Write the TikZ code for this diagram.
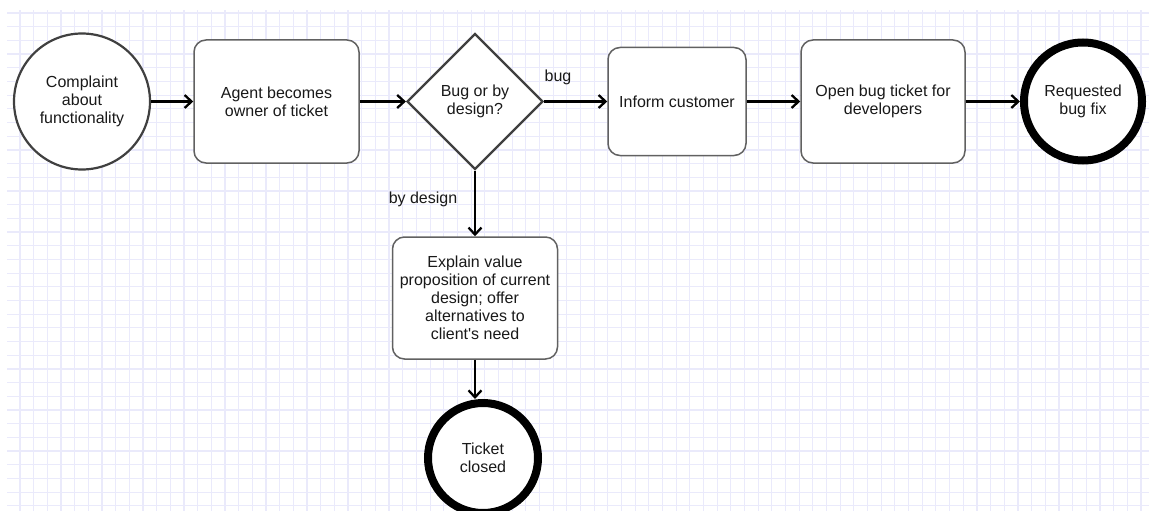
\documentclass[tikz,border=0pt]{standalone}
\usepackage{fontspec}
\setmainfont{Liberation Sans}
\usetikzlibrary{shapes.geometric,arrows.meta}
% straight apostrophe, bypassing the TeX quote mapping
\newcommand{\straightquote}{\XeTeXglyph\numexpr\XeTeXcharglyph"27\relax}
\definecolor{gridline}{RGB}{234,234,251}
\begin{document}
\begin{tikzpicture}[x=1pt,y=-1pt,
  every node/.style={font=\fontsize{16}{18}\selectfont, align=center, inner sep=0pt, text=black!90},
  stepbox/.style={draw=black!62, line width=1.5pt, fill=white, rounded corners=12pt},
  startev/.style={circle, draw=black!75, line width=2.2pt, fill=white},
  endev/.style={circle, draw=black, line width=8pt, fill=white},
  decide/.style={diamond, draw=black!75, line width=2.2pt, fill=white},
  flow/.style={draw=black, line width=2.3pt, -{Straight Barb[length=7pt,width=13pt,line width=2.3pt]}},
  lbl/.style={font=\fontsize{16}{18}\selectfont}
]
% canvas and background grid
\fill[white] (0,0) rectangle (1149,511);
\useasboundingbox (0,0) rectangle (1149,511);
\begin{scope}
  \clip (7,11) rectangle (1149,511);
  \foreach \i in {-1,...,84} {
    \draw[gridline, line width=1.2pt] ({20+13.67*\i},0) -- ({20+13.67*\i},520);
  }
  \foreach \j in {-1,...,37} {
    \draw[gridline, line width=1.2pt] (0,{13+13.69*\j}) -- (1160,{13+13.69*\j});
  }
\end{scope}

% main row
\node[startev, minimum size=136pt] (complaint) at (82,101.5) {Complaint\\about\\functionality};
\node[stepbox, minimum width=165pt, minimum height=123pt] (agent) at (276.5,101.5) {Agent becomes\\owner of ticket};
\node[decide, minimum width=136pt, minimum height=136pt, aspect=1] (check) at (475,101.5) {Bug or by\\design?};
\node[stepbox, minimum width=138pt, minimum height=108pt] (inform) at (677,101.5) {Inform customer};
\node[stepbox, minimum width=164pt, minimum height=123pt] (open) at (883,101.5) {Open bug ticket for\\developers};
\node[endev, minimum size=118pt] (fix) at (1083,101.5) {Requested\\bug fix};

% "by design" branch
\node[stepbox, minimum width=165pt, minimum height=122pt] (explain) at (475,298) {Explain value\\proposition of current\\design; offer\\alternatives to\\client\straightquote s need};
\node[endev, minimum size=110pt] (closed) at (483,458) {Ticket\\closed};

% connectors
\draw[flow] (complaint.east) -- (agent.west);
\draw[flow] (agent.east) -- (check.west);
\draw[flow] (check.east) -- (inform.west);
\draw[flow] (inform.east) -- (open.west);
\draw[flow] (open.east) -- (fix.west);
\draw[flow] (check.south) -- (explain.north);
\draw[flow] (explain.south) -- (explain.south |- closed.north);

% branch labels
\node[lbl] (bugl) at (558,77) {bug};
\node[lbl] (designl) at (423,199) {by design};
\end{tikzpicture}
\end{document}
